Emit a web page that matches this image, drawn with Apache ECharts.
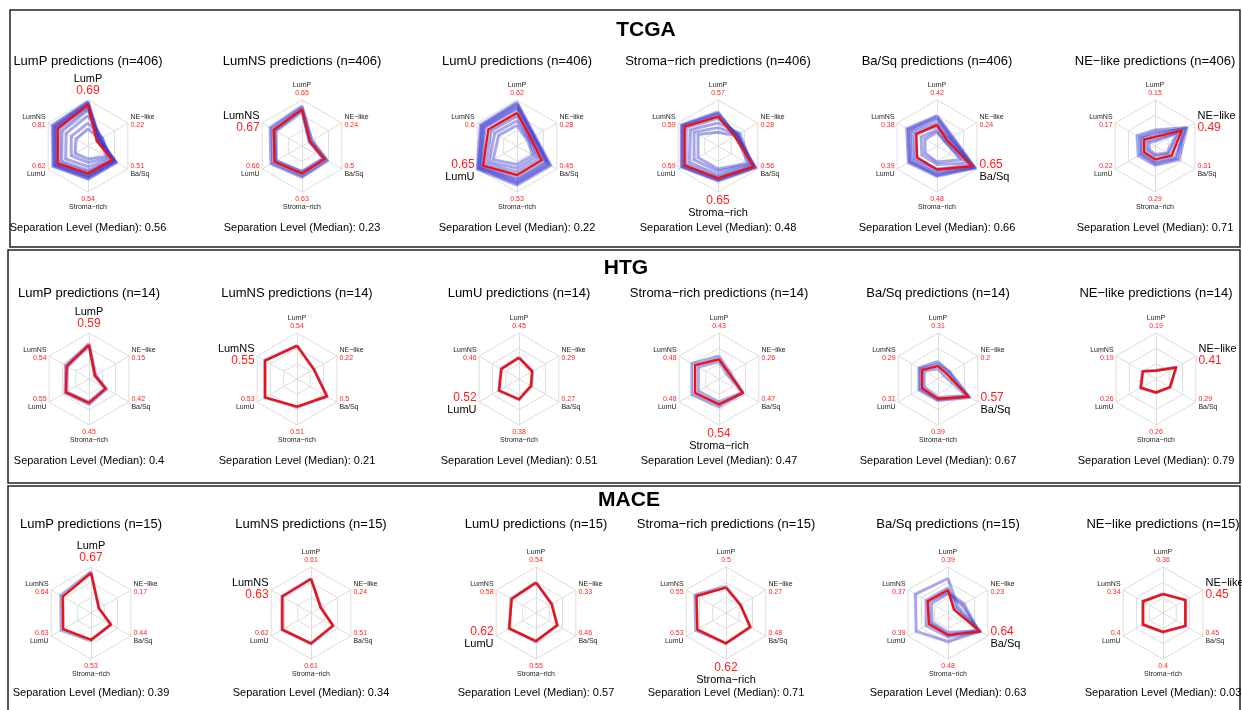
<!DOCTYPE html>
<html>
<head>
<meta charset="utf-8">
<script src="https://cdn.jsdelivr.net/npm/echarts@6/dist/echarts.min.js"></script>
<style>
  html, body { margin: 0; padding: 0; background: #fff; }
  #main { width: 1242px; height: 710px; }
</style>
</head>
<body>
<div id="main"></div>
<script>
// axis order follows echarts radar placement (counter-clockwise from top)
const categories = ['LumP', 'LumNS', 'LumU', 'Stroma\u2212rich', 'Ba/Sq', 'NE\u2212like'];
const cohorts = ['TCGA', 'HTG', 'MACE'];
const cohortN = [406, 14, 15];

// separation level (median) per predicted class
const sepTCGA = [0.56, 0.23, 0.22, 0.48, 0.66, 0.71];
const sepHTG = [0.4, 0.21, 0.51, 0.47, 0.67, 0.79];
const sepMACE = [0.39, 0.34, 0.57, 0.71, 0.63, 0.03];

// red labels at each axis end (axis maximum), one row per predicted class
const maxTCGA = [
  [0.69, 0.81, 0.62, 0.54, 0.51, 0.22],
  [0.65, 0.67, 0.66, 0.63, 0.5, 0.24],
  [0.62, 0.6, 0.65, 0.53, 0.45, 0.28],
  [0.57, 0.59, 0.59, 0.65, 0.56, 0.28],
  [0.42, 0.38, 0.39, 0.48, 0.65, 0.24],
  [0.15, 0.17, 0.22, 0.29, 0.31, 0.49]
];
const maxHTG = [
  [0.59, 0.54, 0.55, 0.45, 0.42, 0.15],
  [0.54, 0.55, 0.53, 0.51, 0.5, 0.22],
  [0.45, 0.46, 0.52, 0.38, 0.27, 0.29],
  [0.43, 0.48, 0.48, 0.54, 0.47, 0.26],
  [0.31, 0.29, 0.31, 0.39, 0.57, 0.2],
  [0.19, 0.19, 0.26, 0.26, 0.29, 0.41]
];
const maxMACE = [
  [0.67, 0.64, 0.63, 0.53, 0.44, 0.17],
  [0.61, 0.63, 0.62, 0.61, 0.51, 0.24],
  [0.54, 0.58, 0.62, 0.55, 0.46, 0.33],
  [0.5, 0.55, 0.53, 0.62, 0.48, 0.27],
  [0.39, 0.37, 0.39, 0.48, 0.64, 0.23],
  [0.36, 0.34, 0.4, 0.4, 0.45, 0.45]
];

// median profile (red), scaled to the axis (0..1)
const medTCGA = [
  [0.9, 0.76, 0.76, 0.6, 0.61, 0.22],
  [0.8, 0.71, 0.69, 0.6, 0.57, 0.2],
  [0.72, 0.72, 0.85, 0.63, 0.62, 0.35],
  [0.64, 0.84, 0.84, 0.7, 0.9, 0.42],
  [0.46, 0.52, 0.5, 0.51, 0.88, 0.25],
  [0.2, 0.28, 0.27, 0.29, 0.42, 0.67]
];
const medHTG = [
  [0.74, 0.56, 0.58, 0.52, 0.42, 0.15],
  [0.72, 0.8, 0.8, 0.6, 0.75, 0.42],
  [0.46, 0.44, 0.5, 0.44, 0.3, 0.33],
  [0.43, 0.6, 0.6, 0.55, 0.6, 0.25],
  [0.28, 0.4, 0.4, 0.43, 0.77, 0.22],
  [0.18, 0.33, 0.38, 0.29, 0.35, 0.5]
];
const medMACE = [
  [0.87, 0.71, 0.7, 0.58, 0.5, 0.2],
  [0.74, 0.72, 0.72, 0.66, 0.55, 0.24],
  [0.66, 0.61, 0.67, 0.61, 0.53, 0.39],
  [0.55, 0.74, 0.72, 0.66, 0.61, 0.36],
  [0.5, 0.51, 0.48, 0.48, 0.8, 0.15],
  [0.41, 0.5, 0.5, 0.41, 0.56, 0.56]
];

// individual sample profiles (blue), a representative subset
const sampTCGA = [
  [[0.97, 0.9, 0.88, 0.72, 0.72, 0.3], [0.95, 0.87, 0.86, 0.7, 0.7, 0.28], [0.93, 0.84, 0.83, 0.67, 0.67, 0.27],
   [0.9, 0.82, 0.81, 0.65, 0.66, 0.26], [0.86, 0.8, 0.79, 0.63, 0.65, 0.25], [0.83, 0.72, 0.72, 0.57, 0.62, 0.28],
   [0.78, 0.65, 0.66, 0.53, 0.63, 0.32], [0.66, 0.55, 0.56, 0.45, 0.58, 0.35], [0.5, 0.42, 0.42, 0.36, 0.52, 0.36],
   [0.38, 0.3, 0.32, 0.28, 0.46, 0.3]],
  [[0.87, 0.8, 0.78, 0.68, 0.64, 0.25], [0.84, 0.76, 0.74, 0.65, 0.61, 0.23], [0.78, 0.68, 0.66, 0.57, 0.55, 0.19],
   [0.75, 0.65, 0.64, 0.55, 0.53, 0.18]],
  [[0.95, 0.92, 1.0, 0.85, 0.85, 0.45], [0.92, 0.89, 0.97, 0.81, 0.81, 0.43], [0.88, 0.86, 0.95, 0.78, 0.78, 0.42],
   [0.84, 0.83, 0.92, 0.74, 0.74, 0.41], [0.8, 0.8, 0.9, 0.7, 0.7, 0.4], [0.65, 0.65, 0.78, 0.56, 0.56, 0.32],
   [0.55, 0.56, 0.7, 0.48, 0.48, 0.3], [0.45, 0.46, 0.6, 0.4, 0.4, 0.26]],
  [[0.74, 0.92, 0.92, 0.76, 0.95, 0.45], [0.71, 0.9, 0.9, 0.74, 0.93, 0.46], [0.68, 0.88, 0.88, 0.73, 0.92, 0.48],
   [0.6, 0.8, 0.8, 0.68, 0.88, 0.5], [0.5, 0.7, 0.72, 0.62, 0.85, 0.55], [0.4, 0.6, 0.6, 0.55, 0.8, 0.5],
   [0.3, 0.5, 0.5, 0.5, 0.75, 0.45]],
  [[0.66, 0.76, 0.72, 0.66, 0.96, 0.4], [0.62, 0.72, 0.69, 0.63, 0.95, 0.37], [0.58, 0.68, 0.66, 0.6, 0.93, 0.35],
   [0.5, 0.62, 0.6, 0.55, 0.9, 0.32], [0.42, 0.55, 0.55, 0.5, 0.85, 0.3], [0.35, 0.4, 0.38, 0.4, 0.75, 0.2],
   [0.3, 0.3, 0.3, 0.35, 0.6, 0.2]],
  [[0.35, 0.45, 0.42, 0.42, 0.6, 0.8], [0.3, 0.38, 0.36, 0.38, 0.55, 0.72], [0.25, 0.35, 0.33, 0.34, 0.5, 0.78],
   [0.15, 0.22, 0.2, 0.22, 0.35, 0.62], [0.1, 0.15, 0.15, 0.18, 0.3, 0.55]]
];
const sampHTG = [
  [[0.77, 0.59, 0.6, 0.55, 0.44, 0.17], [0.72, 0.54, 0.56, 0.5, 0.4, 0.14]],
  [[0.73, 0.81, 0.81, 0.61, 0.76, 0.43]],
  [[0.47, 0.45, 0.51, 0.45, 0.31, 0.34]],
  [[0.5, 0.68, 0.68, 0.6, 0.6, 0.28], [0.38, 0.52, 0.52, 0.5, 0.58, 0.2]],
  [[0.38, 0.48, 0.48, 0.47, 0.8, 0.3], [0.32, 0.45, 0.44, 0.45, 0.75, 0.28], [0.22, 0.35, 0.35, 0.4, 0.72, 0.15]],
  [[0.19, 0.34, 0.39, 0.3, 0.36, 0.51]]
];
const sampMACE = [
  [[0.9, 0.76, 0.75, 0.6, 0.5, 0.2]],
  [[0.75, 0.73, 0.73, 0.67, 0.56, 0.25]],
  [[0.67, 0.62, 0.68, 0.62, 0.54, 0.4]],
  [[0.58, 0.78, 0.76, 0.66, 0.61, 0.36]],
  [[0.75, 0.82, 0.8, 0.62, 0.8, 0.25], [0.55, 0.55, 0.55, 0.52, 0.82, 0.2], [0.42, 0.42, 0.4, 0.42, 0.78, 0.35],
   [0.45, 0.5, 0.45, 0.48, 0.75, 0.4]],
  [[0.42, 0.51, 0.51, 0.42, 0.57, 0.57]]
];

const sepAll = [sepTCGA, sepHTG, sepMACE];
const maxAll = [maxTCGA, maxHTG, maxMACE];
const medAll = [medTCGA, medHTG, medMACE];
const sampAll = [sampTCGA, sampHTG, sampMACE];

// layout
const colX = [
  [88, 302, 517, 718, 937, 1155],
  [89, 297, 519, 719, 938, 1156],
  [91, 311, 536, 726, 948, 1163]
];
const rowY = [146, 379, 613];
const titleY = [61, 293, 524];
const sepY = [228, 461, 693];
const panelTitle = [[646, 30], [626, 268], [629, 500]];
const FONT = '"Liberation Sans", Arial, Helvetica, sans-serif';

const chart = echarts.init(document.getElementById('main'));

function axisLabel(cat, maxv, idx, big) {
  const n = big ? 'N' : 'n', v = big ? 'V' : 'v';
  const ns = '{' + n + '|' + cat + '}', vs = '{' + v + '|' + String(maxv) + '}';
  // top and upper sides: name above value; lower sides: value above name
  if (idx === 0 || idx === 1 || idx === 5) return ns + '\n' + vs;
  return vs + '\n' + ns;
}

function txt(x, y, text, font) {
  return {
    type: 'text', x: x, y: y, z: 10,
    style: {
      text: text, font: font, fill: '#000',
      align: 'center', verticalAlign: 'middle',
      textAlign: 'center', textVerticalAlign: 'middle'
    }
  };
}

const radars = [], series = [], graphics = [];

// panel frames
graphics.push({ type: 'rect', shape: { x: 10, y: 10, width: 1230, height: 237 }, style: { fill: 'none', stroke: '#222', lineWidth: 1.5 } });
graphics.push({ type: 'rect', shape: { x: 8, y: 250, width: 1232, height: 233 }, style: { fill: 'none', stroke: '#222', lineWidth: 1.5 } });
graphics.push({ type: 'rect', shape: { x: 8, y: 486, width: 1232, height: 230 }, style: { fill: 'none', stroke: '#222', lineWidth: 1.5 } });

for (let r = 0; r < cohorts.length; r++) {
  graphics.push(txt(panelTitle[r][0], panelTitle[r][1], cohorts[r], 'bold 21px ' + FONT));
  for (let c = 0; c < categories.length; c++) {
    const ri = radars.length;
    graphics.push(txt(colX[r][c], titleY[r], categories[c] + ' predictions (n=' + cohortN[r] + ')', '13px ' + FONT));
    graphics.push(txt(colX[r][c], sepY[r], 'Separation Level (Median): ' + sepAll[r][c], '11px ' + FONT));

    radars.push({
      center: [colX[r][c], rowY[r]],
      radius: 46,
      shape: 'polygon',
      splitNumber: 3,
      startAngle: 90,
      axisNameGap: 3,
      indicator: categories.map(function (cat, k) {
        return { name: axisLabel(cat, maxAll[r][c][k], k, k === c), max: 1, min: 0 };
      }),
      axisName: {
        color: '#000',
        fontFamily: FONT,
        rich: {
          n: { fontSize: 7, lineHeight: 8, color: '#222', fontFamily: FONT },
          v: { fontSize: 7, lineHeight: 8, color: '#ff2020', fontFamily: FONT },
          N: { fontSize: 11, lineHeight: 12, color: '#000', fontFamily: FONT },
          V: { fontSize: 12, lineHeight: 12, color: '#ff2020', fontFamily: FONT }
        }
      },
      splitLine: { lineStyle: { color: '#dddddd', width: 1 } },
      axisLine: { lineStyle: { color: '#dddddd', width: 1 } },
      splitArea: { show: false }
    });

    series.push({
      type: 'radar',
      radarIndex: ri,
      symbol: 'none',
      silent: true,
      lineStyle: { color: '#3c3cd2', width: 3, opacity: 0.45 },
      data: sampAll[r][c].map(function (s) { return { value: s }; })
    });
    series.push({
      type: 'radar',
      radarIndex: ri,
      symbol: 'none',
      silent: true,
      z: 3,
      lineStyle: { color: '#ee1111', width: 2.4 },
      data: [{ value: medAll[r][c] }]
    });
  }
}

chart.setOption({
  animation: false,
  backgroundColor: '#fff',
  radar: radars,
  series: series,
  graphic: { elements: graphics }
});

window.addEventListener('resize', function () { chart.resize(); });
</script>
</body>
</html>
